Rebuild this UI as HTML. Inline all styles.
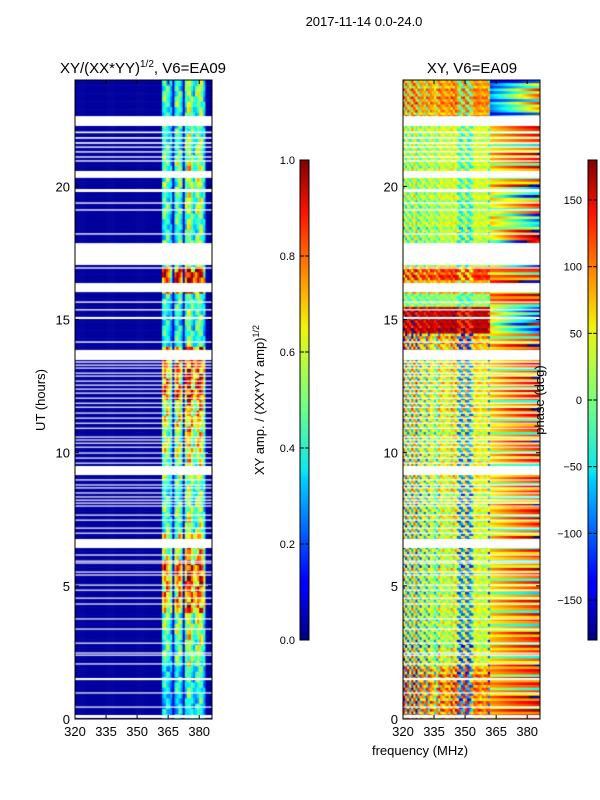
<!DOCTYPE html>
<html><head><meta charset="utf-8">
<style>
body{margin:0;background:#fff;font-family:"Liberation Sans",sans-serif;}
#wrap{position:relative;width:600px;height:800px;overflow:hidden;}
canvas{position:absolute;}
svg{position:absolute;left:0;top:0;}
text{font-family:"Liberation Sans",sans-serif;fill:#000;}
</style></head>
<body>
<div id="wrap">
<canvas id="hmL" width="137" height="639" style="left:75px;top:80px"></canvas>
<canvas id="hmR" width="137" height="639" style="left:403px;top:80px"></canvas>
<svg id="ov" width="600" height="800">
<defs>
<linearGradient id="jet" x1="0" y1="1" x2="0" y2="0">
<stop offset="0" stop-color="#00007f"/><stop offset="0.11" stop-color="#0000ff"/><stop offset="0.125" stop-color="#0000ff"/>
<stop offset="0.34" stop-color="#00d4ff"/><stop offset="0.35" stop-color="#0ae6f0"/><stop offset="0.5" stop-color="#7aff7a"/>
<stop offset="0.65" stop-color="#f0f50a"/><stop offset="0.75" stop-color="#ff9800"/><stop offset="0.89" stop-color="#ff1300"/><stop offset="1" stop-color="#7f0000"/>
</linearGradient>
</defs>
<text x="364" y="26" font-size="13" text-anchor="middle">2017-11-14 0.0-24.0</text>
<text x="143" y="73" font-size="15" text-anchor="middle">XY/(XX*YY)<tspan font-size="10" dy="-6">1/2</tspan><tspan dy="6">, V6=EA09</tspan></text>
<text x="472" y="73" font-size="15" text-anchor="middle">XY, V6=EA09</text>
<text transform="translate(45,400) rotate(-90)" font-size="13" text-anchor="middle">UT (hours)</text>
<text x="420" y="755" font-size="13" text-anchor="middle">frequency (MHz)</text>
<rect x="300" y="160" width="9" height="480" fill="url(#jet)" stroke="#000" stroke-width="1"/>
<rect x="588" y="160" width="9" height="480" fill="url(#jet)" stroke="#000" stroke-width="1"/>
<text transform="translate(264,400) rotate(-90)" font-size="13" text-anchor="middle">XY amp. / (XX*YY amp)<tspan font-size="9" dy="-5">1/2</tspan></text>
<text transform="translate(544,400) rotate(-90)" font-size="13" text-anchor="middle">phase (deg)</text>
<g id="axes"></g>
</svg>
</div>
<script>
// ---- data ----
const freqTicks=[320,335,350,365,380];
const timeTicks=[0,5,10,15,20];
const ampTicks=[0.0,0.2,0.4,0.6,0.8,1.0];
const ampTickLabels=["0.0","0.2","0.4","0.6","0.8","1.0"];
const phaseTicks=[-150,-100,-50,0,50,100,150];
const flagStart=[22.27,22.00,21.79,21.60,21.45,21.27,21.08,20.93,20.32,19.79,19.35,19.09,18.19,17.05,16.91,16.03,15.63,15.34,15.02,14.13,13.48,13.38,13.27,13.16,12.97,12.86,12.67,12.52,12.37,12.22,12.03,11.84,11.69,11.47,11.28,11.09,10.90,10.57,10.46,10.34,10.19,9.97,9.78,9.59,9.16,8.96,8.77,8.66,8.47,8.32,8.20,8.09,7.98,7.64,7.45,7.15,6.96,6.42,6.14,5.91,5.84,5.50,5.39,5.01,4.82,4.52,4.30,3.74,3.36,2.83,2.46,2.38,2.05,1.46,0.96,0.43,0.04];
const flagEnd=[22.64,22.06,21.85,21.66,21.50,21.32,21.13,20.98,20.58,19.90,19.40,19.14,18.24,17.87,16.96,16.37,15.68,15.39,15.10,14.18,13.86,13.43,13.31,13.20,13.01,12.90,12.71,12.56,12.41,12.26,12.07,11.88,11.73,11.51,11.32,11.13,10.94,10.61,10.50,10.38,10.23,10.01,9.82,9.63,9.50,9.00,8.81,8.70,8.51,8.36,8.24,8.13,8.02,7.68,7.49,7.19,7.00,6.76,6.18,5.95,5.88,5.54,5.43,5.05,4.86,4.56,4.34,3.78,3.40,2.87,2.50,2.42,2.09,1.54,1.00,0.47,0.15];
const chanAmp=[0.03,0.03,0.03,0.03,0.03,0.03,0.03,0.03,0.03,0.03,0.03,0.03,0.03,0.03,0.03,0.03,0.03,0.03,0.03,0.03,0.03,0.03,0.03,0.03,0.03,0.03,0.03,0.03,0.03,0.03,0.03,0.03,0.03,0.03,0.03,0.03,0.03,0.03,0.03,0.03,0.03,0.03,
0.40,0.48,0.46,0.40,0.32,0.08,0.40,0.50,0.48,0.38,0.07,0.46,0.55,0.58,0.50,0.38,0.44,0.54,0.56,0.48,0.36,0.04,0.03,0.03];
const hourGain=[0.75,0.8,1.0,1.05,1.5,1.6,1.3,1.0,0.95,1.1,1.2,1.3,1.6,1.65,0.85,0.9,1.75,1.0,0.9,1.0,1.05,0.95,0.9,0.95];
const texture=[1.0,0.8,1.25,0.9,1.1,0.7,1.3,0.95,0.85,1.15,1.05];
const leftBase=[50,40,50,40,0,-5,0,0,10,0,0,0,0,0,0,10,0,10,15,15,15,10,15,15,15,15,20,30,30,150,150,0,70,100,10,5,5,15,5,15,15,15,15,15,20,60,70,60];
const leftSpread=[150,150,150,150,120,120,100,100,100,100,100,110,110,110,110,110,110,110,110,110,100,100,110,110,110,110,110,150,150,40,40,40,60,70,60,60,70,60,60,60,60,60,60,60,60,80,80,80];
const rightBase=[80,70,80,70,60,60,50,50,45,45,45,50,50,45,45,50,45,45,50,50,50,55,50,50,55,50,55,60,60,40,40,90,90,100,50,50,30,50,30,50,55,50,55,50,50,-100,-80,-100];
const rightSlope=[40,40,30,30,40,40,40,40,30,40,40,40,40,60,60,60,60,60,60,60,60,60,60,60,60,60,60,60,60,-160,-160,20,40,20,-150,-150,120,-140,80,-120,60,60,40,40,60,150,150,150];
const chanPat=[0.3,-1.0,0.6,0.1,-0.9,0.2,0.8,0.0,-1.0,0.3,0.1,0.2,-0.8,0.4,0.2,0.0,0.1,-0.6,0.3,0.5,0.1,0.0,0.2,0.4,-0.2,0.6,0.3,0.2,-1.0,-0.9,0.3,0.5,-1.0,-0.9,0.2,0.1,0.4,0.3,0.2,0.0,0.3,0.2];
const rowJitter=[0,0.15,-0.1,0.2,-0.15,0.05,0.25,-0.2,0.1,-0.05];
const rightRowJitter=[0,40,-30,60,-120,20,50,-20,90,-60,10,-150];

// ---- scales ----
const X0=75,XR0=403,Y0=719,PXH=26.63,PXM=2.07;
const xs=f=>(f-320)*PXM;
const ys=h=>Y0-h*PXH;
function jet(v){v=Math.max(0,Math.min(1,v));
 const c=x=>Math.max(0,Math.min(1,x));
 const r=c(Math.min(4*v-1.5,-4*v+4.5)),g=c(Math.min(4*v-0.5,-4*v+3.5)),b=c(Math.min(4*v+0.5,-4*v+2.5));
 return `rgb(${r*255|0},${g*255|0},${b*255|0})`;}

function drawHeat(id,valFn){
 const ctx=document.getElementById(id).getContext('2d');
 const nRow=240;
 for(let r=0;r<nRow;r++){
  const h0=r*0.1,h1=h0+0.1;
  const yTop=ys(h1)-80,yB=ys(h0)-80;
  for(let c=0;c<chanAmp.length;c++){
   ctx.fillStyle=jet(valFn(r,c));
   ctx.fillRect(xs(320+c),yTop,PXM+0.6,yB-yTop+0.6);
  }
 }
 ctx.fillStyle='#fff';
 for(let i=0;i<flagStart.length;i++){
  const a=ys(flagEnd[i])-80,b=ys(flagStart[i])-80;
  ctx.fillRect(0,a,137,Math.max(1.2,b-a));
 }
}
drawHeat('hmL',(r,c)=>{
 const base=chanAmp[c];
 if(base<0.1) return base;
 return base*hourGain[Math.floor(r/10)]*texture[(Math.floor(r/2)*3+Math.floor(c/2))%texture.length];
});
drawHeat('hmR',(r,c)=>{
 const k=Math.floor(r/5);
 let p;
 if(c<42){
  const j=rowJitter[r%rowJitter.length];
  p=leftBase[k]+leftSpread[k]*(chanPat[(c+(r%3))%chanPat.length]+j);
 } else {
  p=rightBase[k]+rightSlope[k]*((c-42)/24)+rightRowJitter[r%rightRowJitter.length]*(0.4+(c-42)/40);
 }
 p=((p+180)%360+360)%360-180;
 return (p+180)/360;
});

// ---- axes ----
const NS='http://www.w3.org/2000/svg';
const g=document.getElementById('axes');
function mk(t,a,parent){const e=document.createElementNS(NS,t);for(const k in a)e.setAttribute(k,a[k]);(parent||g).appendChild(e);return e;}
[[X0,'left'],[XR0,'right']].forEach(([ox,nm])=>{
 const fr=mk('rect',{x:ox,y:80,width:137,height:639,fill:'none',stroke:'#000','stroke-width':1});
 
 
 freqTicks.forEach(f=>{
  const x=ox+xs(f);
  mk('line',{x1:x,x2:x,y1:719,y2:715,stroke:'#000'});
  mk('line',{x1:x,x2:x,y1:80,y2:84,stroke:'#000'});
  const t=mk('text',{x:x,y:736,'font-size':13,'text-anchor':'middle'});t.textContent=f;
  
  
 });
 timeTicks.forEach(h=>{
  const y=ys(h);
  mk('line',{x1:ox,x2:ox+4,y1:y,y2:y,stroke:'#000'});
  mk('line',{x1:ox+137,x2:ox+133,y1:y,y2:y,stroke:'#000'});
  const t=mk('text',{x:ox-5,y:y+5,'font-size':13,'text-anchor':'end'});t.textContent=h;
  
  
 });
});
ampTicks.forEach((v,i)=>{
 const y=640-v*480;
 mk('line',{x1:300,x2:304,y1:y,y2:y,stroke:'#000'});
 mk('line',{x1:309,x2:305,y1:y,y2:y,stroke:'#000'});
 const t=mk('text',{x:295,y:y+4,'font-size':11,'text-anchor':'end'});t.textContent=ampTickLabels[i];
 
 
});
phaseTicks.forEach(v=>{
 const y=400-v*480/360;
 mk('line',{x1:588,x2:592,y1:y,y2:y,stroke:'#000'});
 mk('line',{x1:597,x2:593,y1:y,y2:y,stroke:'#000'});
 const t=mk('text',{x:582,y:y+4,'font-size':11,'text-anchor':'end'});t.textContent=v<0?'\u2212'+(-v):v;
 
 
});
</script>
</body></html>
